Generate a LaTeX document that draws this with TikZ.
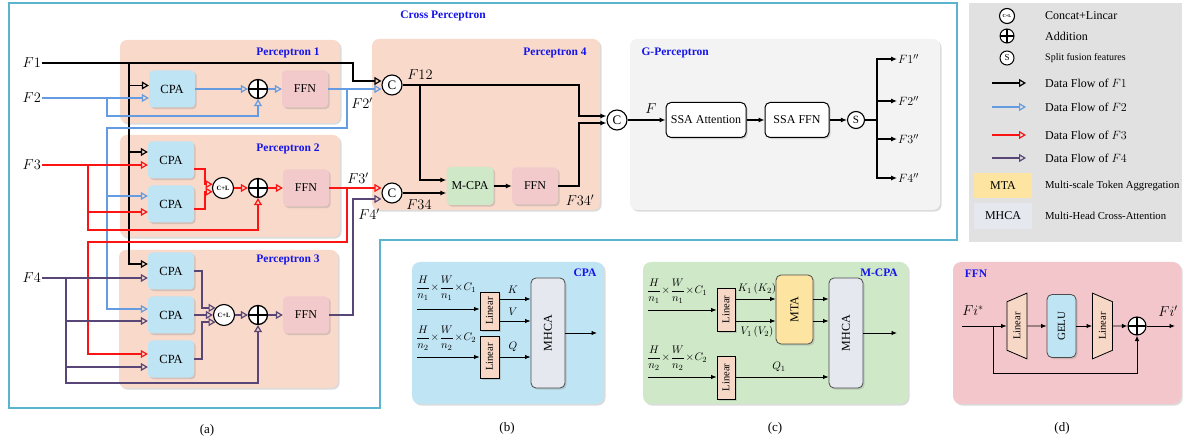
\documentclass[tikz,border=0pt]{standalone}
\usepackage{fontspec}
\setmainfont{Liberation Serif}
\usepackage{graphicx}
\usetikzlibrary{arrows.meta,shadows,shapes.geometric}

\definecolor{peach}{RGB}{248,217,202}
\definecolor{cpablue}{RGB}{191,228,244}
\definecolor{ffnpink}{RGB}{242,202,203}
\definecolor{mgreen}{RGB}{206,232,200}
\definecolor{gpgray}{RGB}{243,243,243}
\definecolor{leggray}{RGB}{225,225,225}
\definecolor{mtayel}{RGB}{253,228,160}
\definecolor{mhcagray}{RGB}{229,232,239}
\definecolor{linpeach}{RGB}{247,215,198}
\definecolor{flowblue}{RGB}{100,155,225}
\definecolor{flowred}{RGB}{250,20,20}
\definecolor{flowpurple}{RGB}{88,70,118}
\definecolor{ttlblue}{RGB}{20,20,235}
\definecolor{cyanline}{RGB}{90,180,205}
\definecolor{dpink}{RGB}{242,198,202}

% compact size expression used in the CPA / M-CPA panels
\newcommand{\sizeexpr}[1]{$\displaystyle\frac{H}{n_{#1}}\mkern1mu{\times}\mkern1mu\frac{W}{n_{#1}}\mkern1mu{\times}\mkern1mu C_{#1}$}

\begin{document}
\begin{tikzpicture}[x=1pt,y=-1pt,
  shd/.style={drop shadow={opacity=0.28,shadow xshift=1.6pt,shadow yshift=-1.6pt}},
  pbox/.style={fill=peach,rounded corners=7pt,shd,inner sep=0pt},
  bgbox/.style={rounded corners=8pt,shd,inner sep=0pt},
  cpabox/.style={fill=cpablue,rounded corners=4pt,shd,minimum width=46pt,minimum height=37pt,inner sep=0pt,font=\fontsize{12.5}{14}\selectfont},
  ffnbox/.style={fill=ffnpink,rounded corners=4pt,shd,minimum width=46pt,minimum height=37pt,inner sep=0pt,font=\fontsize{12}{14}\selectfont},
  mbox/.style={fill=mgreen,rounded corners=4pt,shd,minimum width=47pt,minimum height=38pt,inner sep=0pt,font=\fontsize{12}{14}\selectfont},
  ssabox/.style={draw,fill=white,rounded corners=5pt,line width=1pt,shd,minimum height=35pt,inner sep=0pt,font=\fontsize{12}{14}\selectfont},
  ttl/.style={text=ttlblue,font=\bfseries\fontsize{11.5}{13}\selectfont},
  lab/.style={font=\fontsize{14}{16}\selectfont,inner sep=1pt},
  olab/.style={font=\fontsize{13}{15}\selectfont,inner sep=1pt,anchor=west},
  mlab/.style={font=\fontsize{11}{13}\selectfont,inner sep=0pt},
  frac/.style={font=\fontsize{11}{13}\selectfont,inner sep=0pt,anchor=west},
  legt/.style={font=\fontsize{12}{14}\selectfont,inner sep=0pt,anchor=west},
  capt/.style={font=\fontsize{13}{15}\selectfont},
  cc/.style={circle,draw,fill=white,line width=1.1pt,minimum size=20pt,inner sep=0pt,font=\fontsize{13}{13}\selectfont},
  clc/.style={circle,draw,fill=white,line width=1.1pt,minimum size=21pt,inner sep=0pt,font=\bfseries\fontsize{6.5}{7}\selectfont},
  plusc/.style={circle,draw,fill=white,line width=1.3pt,minimum size=#1,inner sep=0pt,
    path picture={\draw[line width=1.3pt] (path picture bounding box.north) -- (path picture bounding box.south)
      (path picture bounding box.west) -- (path picture bounding box.east);}},
  plusc/.default=19pt,
  linbox/.style={draw,fill=linpeach,line width=0.8pt,minimum width=19pt,inner sep=0pt,shd,font=\fontsize{10.5}{12}\selectfont},
  mhbox/.style={draw=black!70,fill=mhcagray,rounded corners=5pt,line width=0.8pt,minimum width=34pt,minimum height=110pt,inner sep=0pt,shd,font=\fontsize{12}{14}\selectfont},
  trap/.style={trapezium,trapezium angle=60,trapezium stretches=true,rotate=90,minimum width=66pt,minimum height=20pt,
    inner sep=1pt,fill=linpeach,draw,line width=0.8pt,font=\fontsize{10.5}{12}\selectfont},
  flow/.style={line width=1.5pt,-{Triangle[open,length=7pt,width=8pt,line width=1.2pt]}},
  f1l/.style={flow,draw=black},
  f2l/.style={flow,draw=flowblue},
  f3l/.style={flow,draw=flowred},
  f4l/.style={flow,draw=flowpurple},
  blk/.style={line width=1.1pt,-{Latex[length=6pt,width=5pt]}},
  sblk/.style={line width=0.9pt,-{Latex[length=5.5pt,width=4.5pt]}}
]
\fill[white] (0,0) rectangle (1188,443);
\useasboundingbox (0,0) rectangle (1188,443);

% ---------- (a) Cross Perceptron frame ----------
\draw[cyanline,line width=2pt] (9,3) -- (957,3) -- (957,240) -- (380,240) -- (380,408) -- (9,408) -- cycle;
\node[ttl] at (443,16) {Cross Perceptron};

% containers
\node[pbox,minimum width=220pt,minimum height=83pt] (p1) at (230,81.5) {};
\node[pbox,minimum width=220pt,minimum height=102pt] (p2) at (230,186) {};
\node[pbox,minimum width=219pt,minimum height=138pt] (p3) at (228.5,319) {};
\node[pbox,minimum width=228pt,minimum height=171pt] (p4) at (486,124.5) {};
\node[pbox,fill=gpgray,minimum width=310pt,minimum height=171pt] (pg) at (785,124.5) {};

\node[ttl] at (288,53) {Perceptron 1};
\node[ttl] at (288,149) {Perceptron 2};
\node[ttl] at (288,260) {Perceptron 3};
\node[ttl] at (555,53) {Perceptron 4};
\node[ttl,anchor=west] at (638,53) {G-Perceptron};

% inputs
\node[lab,anchor=east] (in1) at (42,63) {$F1$};
\node[lab,anchor=east] (in2) at (42,98) {$F2$};
\node[lab,anchor=east] (in3) at (42,165) {$F3$};
\node[lab,anchor=east] (in4) at (42,278) {$F4$};

% Perceptron 1
\node[cpabox] (a1) at (172,89) {CPA};
\node[plusc] (s1) at (258,89) {};
\node[ffnbox] (n1) at (305,89) {FFN};
% Perceptron 2
\node[cpabox] (a2) at (171,160) {CPA};
\node[cpabox] (b2) at (171,204) {CPA};
\node[clc] (l2) at (223,188) {C+L};
\node[plusc] (s2) at (258,188) {};
\node[ffnbox] (n2) at (306,188) {FFN};
% Perceptron 3
\node[cpabox] (a3) at (171,271) {CPA};
\node[cpabox] (b3) at (171,315) {CPA};
\node[cpabox] (c3) at (171,359) {CPA};
\node[clc] (l3) at (224,315) {C+L};
\node[plusc] (s3) at (258,315) {};
\node[ffnbox] (n3) at (306,315) {FFN};
% Perceptron 4
\node[cc] (k1) at (392,85) {C};
\node[cc] (k2) at (392,193) {C};
\node[mbox] (mc) at (470,186) {M-CPA};
\node[ffnbox] (n4) at (535,186) {FFN};
\node[cc] (k3) at (617,120) {C};
% G-Perceptron
\node[ssabox,minimum width=80pt] (sa) at (706,120) {SSA Attention};
\node[ssabox,minimum width=64pt] (sf) at (797,120) {SSA FFN};
\node[cc,minimum size=17pt,font=\fontsize{11}{11}\selectfont] (sp) at (856,120) {S};
\node[olab] (o1) at (897,59) {$F1''$};
\node[olab] (o2) at (897,101) {$F2''$};
\node[olab] (o3) at (897,139) {$F3''$};
\node[olab] (o4) at (897,178) {$F4''$};

% flow of F1
\draw[f1l] (in1.east) -- (353,63) |- ([yshift=4pt]k1.west);
\draw[f1l] (129,63) |- ([yshift=3.5pt]a1.west);
\draw[f1l] (129,63) |- ([yshift=8pt]a2.west);
\draw[f1l] (129,63) |- ([yshift=7pt]a3.west);

% flow of F2
\draw[f2l] (in2.east) -- ([yshift=-9pt]a1.west);
\draw[f2l] (107,98) -- (107,116) -| (s1.south);
\draw[f2l] (a1.east) -- (s1.west);
\draw[f2l] (s1.east) -- (n1.west);
\draw[f2l] (n1.east) -- ([yshift=-4pt]k1.west);
\draw[f2l] (347,89) |- (107,128) |- ([yshift=8pt]b2.west);
\draw[f2l] (107,128) |- ([yshift=6pt]b3.west);

% flow of F3
\draw[f3l] (in3.east) -- ([yshift=-5pt]a2.west);
\draw[f3l] (88,165) |- ([yshift=-8pt]b2.west);
\draw[f3l] (88,165) -- (88,230) -| (s2.south);
\draw[f3l] ([yshift=-9pt]a2.east) -- ++(11,0) |- (l2.160);
\draw[f3l] ([yshift=-5pt]b2.east) -- ++(11,0) |- (l2.200);
\draw[f3l] (l2.east) -- (s2.west);
\draw[f3l] (s2.east) -- (n2.west);
\draw[f3l] (n2.east) -- ([yshift=5pt]k2.west);
\draw[f3l] (347,188) |- (88,242) |- ([yshift=5pt]c3.west);

% flow of F4
\draw[f4l] (in4.east) -- ([yshift=-7pt]a3.west);
\draw[f4l] (66,278) |- ([yshift=-6pt]b3.west);
\draw[f4l] (66,278) |- ([yshift=-8pt]c3.west);
\draw[f4l] (66,278) -- (66,383) -| (s3.south);
\draw[f4l] (a3.east) -- ++(8,0) |- (l3.140);
\draw[f4l] (b3.east) -- (l3.west);
\draw[f4l] (c3.east) -- ++(8,0) |- (l3.220);
\draw[f4l] (l3.east) -- (s3.west);
\draw[f4l] (s3.east) -- (n3.west);
\draw[f4l] (n3.east) -- (353,315) |- ([yshift=-6pt]k2.west);

\node[lab] at (362,103) {$F2'$};
\node[lab] at (358,178) {$F3'$};
\node[lab] at (369,214) {$F4'$};

% Perceptron 4 wiring
\draw[blk] (k1.east) -- (579,85) |- ([yshift=4pt]k3.west);
\draw[blk] (420,85) |- ([yshift=6pt]mc.west);
\draw[blk] (k2.east) -- ([yshift=-7pt]mc.west);
\draw[blk] (mc.east) -- (n4.west);
\draw[blk] (n4.east) -- (579,186) |- ([yshift=-3pt]k3.west);
\node[lab] at (420,75) {$F12$};
\node[lab] at (419,205) {$F34$};
\node[lab] at (580,200) {$F34'$};

% G-Perceptron wiring
\draw[blk] (k3.east) -- (sa.west);
\node[lab] at (651,109) {$F$};
\draw[blk] (sa.east) -- (sf.west);
\draw[blk] (sf.east) -- (sp.west);
\draw[line width=1.1pt] (sp.east) -- (877,120);
\draw[blk] (877,120) |- (o1.west);
\draw[blk] (877,120) |- (o2.west);
\draw[blk] (877,120) |- (o3.west);
\draw[blk] (877,120) |- (o4.west);

\node[capt] at (207,430) {(a)};

% ---------- legend ----------
\node[fill=leggray,minimum width=213pt,minimum height=239pt,inner sep=0pt] (lg) at (1075.5,122.5) {};
\node[clc,minimum size=15pt,font=\bfseries\fontsize{4.5}{5}\selectfont] (lgc) at (1007,16) {C+L};
\node[legt] at (1045,16) {Concat+Lincar};
\node[plusc=14pt,line width=1pt] (lgp) at (1007,36) {};
\node[legt] at (1045,36) {Addition};
\node[cc,minimum size=14pt,line width=1pt,font=\fontsize{9}{9}\selectfont] (lgs) at (1007,58) {S};
\node[legt,font=\fontsize{10}{12}\selectfont] at (1045,58) {Split fusion features};
\coordinate (la1) at (992,83);  \coordinate (lb1) at (1026,83);
\coordinate (la2) at (992,107); \coordinate (lb2) at (1026,107);
\coordinate (la3) at (992,135); \coordinate (lb3) at (1026,135);
\coordinate (la4) at (992,158); \coordinate (lb4) at (1026,158);
\draw[f1l] (la1) -- (lb1);
\draw[f2l] (la2) -- (lb2);
\draw[f3l] (la3) -- (lb3);
\draw[f4l] (la4) -- (lb4);
\node[legt] at (1045,83) {Data Flow of $F1$};
\node[legt] at (1045,107) {Data Flow of $F2$};
\node[legt] at (1045,135) {Data Flow of $F3$};
\node[legt] at (1045,158) {Data Flow of $F4$};
\node[fill=mtayel,minimum width=58pt,minimum height=25pt,inner sep=0pt,font=\fontsize{12}{14}\selectfont] at (1003,185.5) {MTA};
\node[legt,font=\fontsize{10.7}{13}\selectfont] at (1045,185.5) {Multi-scale Token Aggregation};
\node[fill=mhcagray,minimum width=58pt,minimum height=26pt,inner sep=0pt,font=\fontsize{12}{14}\selectfont] at (1003,216) {MHCA};
\node[legt,font=\fontsize{10.7}{13}\selectfont] at (1045,216) {Multi-Head Cross-Attention};

% ---------- (b) CPA ----------
\node[bgbox,fill=cpablue,minimum width=192pt,minimum height=142pt] (bb) at (508,333) {};
\node[ttl] at (585,273) {CPA};
\node[frac] at (416,288) {\sizeexpr{1}};
\node[frac] at (416,338) {\sizeexpr{2}};
\node[linbox,minimum height=38pt] (bl1) at (489.5,311) {\rotatebox{90}{Linear}};
\node[linbox,minimum height=42pt] (bl2) at (489.5,357) {\rotatebox{90}{Linear}};
\node[mhbox] (bm) at (548,333) {\rotatebox{90}{MHCA}};
\coordinate (bi1) at (417,309);
\coordinate (bi2) at (417,357);
\coordinate (bo) at (597,333);
\draw[sblk] (bi1) -- (bi1 -| bl1.west);
\draw[sblk] (bi2) -- (bi2 -| bl2.west);
\draw[sblk] (bl1.east |- 0,299) -- (bm.west |- 0,299);
\draw[sblk] (bl1.east |- 0,321) -- (bm.west |- 0,321);
\draw[sblk] (bi2 -| bl2.east) -- (bi2 -| bm.west);
\draw[sblk] (bm.east) -- (bo);
\node[mlab] at (513,290) {$K$};
\node[mlab] at (513,312) {$V$};
\node[mlab] at (513,347) {$Q$};
\node[capt] at (507,428) {(b)};

% ---------- (c) M-CPA ----------
\node[bgbox,fill=mgreen,minimum width=265pt,minimum height=142pt] (cb) at (775.5,333) {};
\node[ttl] at (879,273) {M-CPA};
\node[frac] at (647,291) {\sizeexpr{1}};
\node[frac] at (647,358) {\sizeexpr{2}};
\node[linbox,minimum width=18pt,minimum height=43pt] (cl1) at (726,309.5) {\rotatebox{90}{Linear}};
\node[linbox,minimum width=18pt,minimum height=43pt] (cl2) at (726,377.5) {\rotatebox{90}{Linear}};
\node[draw=black!70,fill=mtayel,rounded corners=5pt,line width=0.8pt,minimum width=37pt,minimum height=69pt,inner sep=0pt,shd,font=\fontsize{12}{14}\selectfont] (cm) at (794.5,309.5) {\rotatebox{90}{MTA}};
\node[mhbox] (ch) at (846,333) {\rotatebox{90}{MHCA}};
\coordinate (ci1) at (648,310);
\coordinate (ci2) at (648,377);
\coordinate (co) at (897,333);
\draw[sblk] (ci1) -- (ci1 -| cl1.west);
\draw[sblk] (ci2) -- (ci2 -| cl2.west);
\draw[sblk] (cl1.east |- 0,299) -- (cm.west |- 0,299);
\draw[sblk] (cl1.east |- 0,321) -- (cm.west |- 0,321);
\draw[sblk] (cm.east |- 0,299) -- (ch.west |- 0,299);
\draw[sblk] (cm.east |- 0,321) -- (ch.west |- 0,321);
\draw[sblk] (ci2 -| cl2.east) -- (ci2 -| ch.west);
\draw[sblk] (ch.east) -- (co);
\node[mlab] at (757,289) {$K_1\left(K_2\right)$};
\node[mlab] at (757,332) {$V_1\left(V_2\right)$};
\node[mlab] at (779,367) {$Q_1$};
\node[capt] at (775,428) {(c)};

% ---------- (d) FFN ----------
\node[bgbox,fill=dpink,minimum width=228pt,minimum height=142pt] (db) at (1067,333) {};
\node[ttl] at (976,274) {FFN};
\node[lab] at (973,311) {$Fi^{*}$};
\node[lab] at (1168,311) {$Fi'$};
\node[trap] (dl1) at (1017,326) {Linear};
\node[trap,shape border rotate=180] (dl2) at (1102.5,326) {Linear};
\node[fill=cpablue,draw=black!70,rounded corners=5pt,line width=0.8pt,minimum width=29pt,minimum height=63pt,inner sep=0pt,shd,font=\fontsize{11}{13}\selectfont] (dg) at (1061.5,326) {\rotatebox{90}{GELU}};
\node[plusc=18pt,line width=1.1pt] (dp) at (1137,326) {};
\coordinate (di) at (962,326);
\coordinate (dk) at (993,326);
\coordinate (do) at (1175,326);
\draw[sblk] (di) -- (dl1);
\draw[sblk] (dl1) -- (dg);
\draw[sblk] (dg) -- (dl2);
\draw[sblk] (dl2) -- (dp);
\draw[sblk] (dp) -- (do);
\draw[sblk] (dk) -- (993,373) -| (dp.south);
\node[capt] at (1062,428) {(d)};
\end{tikzpicture}
\end{document}
